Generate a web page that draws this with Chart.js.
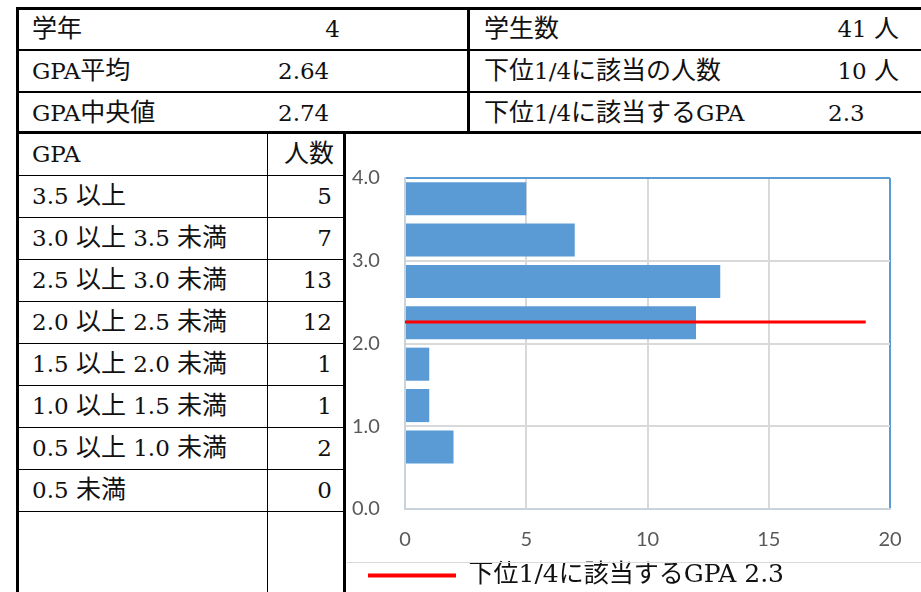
<!DOCTYPE html>
<html>
<head>
<meta charset="utf-8">
<script src="https://cdn.jsdelivr.net/npm/chart.js@4"></script>
<style>
  body { margin: 0; background: #fff; width: 921px; height: 592px; overflow: hidden; position: relative; }
  .ln { position: absolute; background: #000; }
  .t { position: absolute; font-family: "DejaVu Serif", "Noto Sans CJK JP", serif; font-size: 23px; color: #111; line-height: 42px; white-space: nowrap; }
  .t .jp { font-family: "Noto Sans CJK JP", sans-serif; font-size: 25px; line-height: 1; }
  .r { text-align: right; }
  #wrap { position: absolute; left: 347px; top: 134px; width: 574px; height: 464px; }
  #frame { position: absolute; left: 347px; top: 562px; width: 574px; height: 1px; background: #d9d9d9; }
</style>
</head>
<body>
<div id="wrap"><canvas id="chart"></canvas></div>
<div id="frame"></div>
<script>
// summary table
const summaryLeft = [["学年", "4"], ["GPA平均", "2.64"], ["GPA中央値", "2.74"]];
const summaryRight = [["学生数", "41 人"], ["下位1/4に該当の人数", "10 人"], ["下位1/4に該当するGPA", "2.3"]];

// distribution table
const rangeLabels = ["3.5 以上", "3.0 以上 3.5 未満", "2.5 以上 3.0 未満", "2.0 以上 2.5 未満",
  "1.5 以上 2.0 未満", "1.0 以上 1.5 未満", "0.5 以上 1.0 未満", "0.5 未満"];
const counts = [5, 7, 13, 12, 1, 1, 2, 0];
const binMids = [3.75, 3.25, 2.75, 2.25, 1.75, 1.25, 0.75, 0.25];

// lower quartile line
const quartileGpa = 2.26;
const quartileSpan = [0, 19];
const quartileLabel = "下位1/4に該当するGPA 2.3";

const yTicks = [0, 1, 2, 3, 4];
const xTicks = [0, 5, 10, 15, 20];

const add = (cls, css, text) => {
  const d = document.createElement("div");
  d.className = cls;
  Object.assign(d.style, css);
  if (text !== undefined) {
    // japanese runs a bit larger than the latin ones
    text.split(/([\u3000-\u9fff\uff00-\uffef]+)/).forEach((part, i) => {
      if (!part) return;
      if (i % 2) {
        const s = document.createElement("span");
        s.className = "jp";
        s.textContent = part;
        d.appendChild(s);
      } else {
        d.appendChild(document.createTextNode(part));
      }
    });
  }
  document.body.appendChild(d);
};

// table grid
add("ln", { left: "16px", top: "7px", width: "905px", height: "3px" });
add("ln", { left: "16px", top: "49px", width: "905px", height: "2px" });
add("ln", { left: "16px", top: "91px", width: "905px", height: "2px" });
add("ln", { left: "16px", top: "131px", width: "905px", height: "3px" });
add("ln", { left: "16px", top: "7px", width: "3px", height: "585px" });
add("ln", { left: "467px", top: "7px", width: "3px", height: "126px" });
add("ln", { left: "343px", top: "131px", width: "3px", height: "461px" });
add("ln", { left: "267px", top: "133px", width: "1px", height: "459px" });
for (let i = 0; i < 9; i++) {
  add("ln", { left: "18px", top: (175 + i * 42) + "px", width: "326px", height: "1px" });
}

summaryLeft.forEach(([k, v], i) => {
  const top = (8 + i * 42) + "px";
  add("t", { left: "32px", top }, k);
  if (i === 0) add("t r", { left: "300px", top, width: "40px" }, v);
  else add("t", { left: "278px", top }, v);
});
summaryRight.forEach(([k, v], i) => {
  const top = (8 + i * 42) + "px";
  add("t", { left: "484px", top }, k);
  if (i < 2) add("t r", { left: "780px", top, width: "119px" }, v);
  else add("t", { left: "828px", top }, v);
});

add("t", { left: "32px", top: "133px" }, "GPA");
add("t r", { left: "270px", top: "133px", width: "64px" }, "人数");
rangeLabels.forEach((lab, i) => {
  const top = (175 + i * 42) + "px";
  add("t", { left: "32px", top }, lab);
  add("t r", { left: "270px", top, width: "62px" }, String(counts[i]));
});

const tickFont = { family: "Lato, 'Open Sans', sans-serif", size: 20 };
const blue = "#5b9bd5";

new Chart(document.getElementById("chart"), {
  data: {
    datasets: [
      {
        type: "line",
        label: quartileLabel,
        data: quartileSpan.map((x) => ({ x: x, y: quartileGpa })),
        borderColor: "#ff0000",
        backgroundColor: "#ff0000",
        borderWidth: 3,
        pointRadius: 0,
        order: 0,
      },
      {
        type: "bar",
        label: "人数",
        data: counts.map((c, i) => ({ x: c, y: binMids[i] })),
        backgroundColor: blue,
        categoryPercentage: 1,
        barPercentage: 0.8,
        order: 1,
      },
    ],
  },
  options: {
    indexAxis: "y",
    responsive: true,
    maintainAspectRatio: false,
    animation: false,
    layout: { padding: { top: 44, left: 5, right: 31, bottom: 0 } },
    scales: {
      x: {
        type: "linear",
        min: 0,
        max: 20,
        afterBuildTicks: (s) => { s.ticks = xTicks.map((v) => ({ value: v })); },
        afterFit: (s) => { s.height = 38; },
        grid: {
          drawTicks: false,
          lineWidth: 2,
          color: (c) => (c.tick && c.tick.value === 20 ? blue : "#d9d9d9"),
        },
        border: { color: "#c9d3dc", width: 2 },
        ticks: { color: "#595959", font: tickFont, padding: 19, maxRotation: 0 },
      },
      y: {
        type: "linear",
        min: 0,
        max: 4,
        offset: false,
        afterBuildTicks: (s) => { s.ticks = yTicks.map((v) => ({ value: v })); },
        afterFit: (s) => { s.width = 53; },
        grid: {
          offset: false,
          drawTicks: false,
          lineWidth: 2,
          color: (c) => (c.tick && c.tick.value === 4 ? blue : "#d9d9d9"),
        },
        border: { color: "#c9d3dc", width: 2 },
        ticks: {
          color: "#595959",
          font: tickFont,
          crossAlign: "far",
          callback: (v) => Number(v).toFixed(1),
        },
      },
    },
    plugins: {
      tooltip: { enabled: false },
      legend: {
        position: "bottom",
        align: "start",
        labels: {
          boxWidth: 88,
          boxHeight: 4,
          padding: 16,
          color: "#111",
          font: { family: "'DejaVu Serif', 'Noto Sans CJK JP', serif", size: 25 },
          filter: (item) => item.datasetIndex === 0,
          generateLabels: (chart) =>
            Chart.defaults.plugins.legend.labels.generateLabels(chart).map((it) => ({ ...it, lineWidth: 0 })),
        },
      },
    },
  },
});
</script>
</body>
</html>
